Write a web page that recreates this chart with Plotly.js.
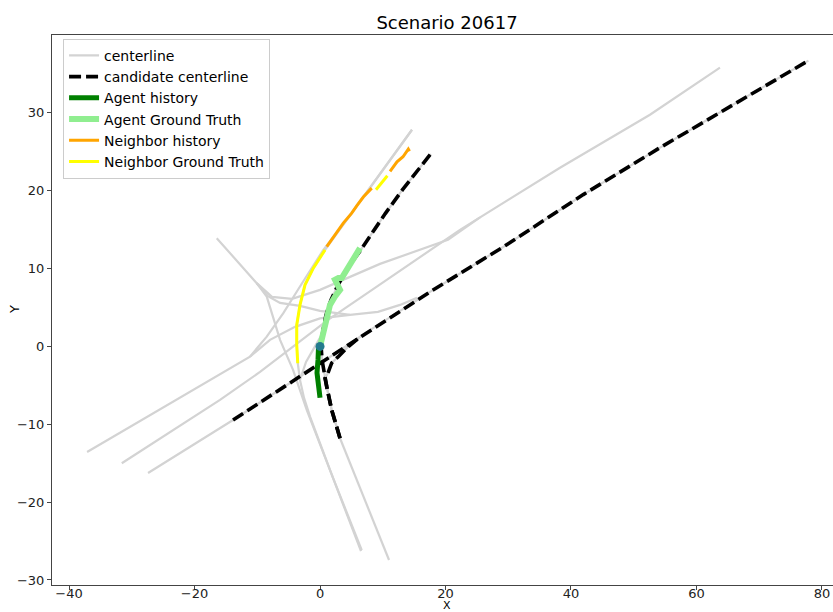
<!DOCTYPE html>
<html>
<head>
<meta charset="utf-8">
<script src="https://cdn.plot.ly/plotly-3.0.1.min.js"></script>
<style>
html,body{margin:0;padding:0;overflow:hidden;background:#fff;}
#chart{width:842px;height:612px;}
</style>
</head>
<body>
<div id="chart"></div>
<script>
// ---- centerlines (gray) ----
const clSw1X = [-37.13, -11.16, -8.49, -5.85, -3.19, 0.53, 4.25, 9.56, 14.66];
const clSw1Y = [-13.56, -1.31, 1.26, 4.27, 7.69, 12.40, 16.26, 22.17, 27.83];
const clSw2X = [-31.6, -15.94, -9.56, -3.98, 1.27, 8.76, 22.31, 38.25, 52.59, 63.75];
const clSw2Y = [-15.01, -6.88, -3.28, 0.19, 3.41, 7.52, 14.97, 22.94, 29.76, 35.8];
const clSw3X = [-27.41, -13.86, 0, 8.76, 17.53, 29.45, 41.96, 53.93, 66.98, 77.85];
const clSw3Y = [-16.26, -9.45, -2.2, 2.5, 7.0, 12.9, 19.5, 25.4, 31.6, 36.71];
const clNwX = [-16.46, -10.09, -8.49, -7.49, -6.37, -4.30, -2.12, 2.07, 6.53];
const clNwY = [13.9, 8.12, 6.40, 3.83, 0.84, -3.02, -8.16, -16.9, -26.3];
const clNsX = [14.66, 9.56, 4.25, 0.80, -1.07, -2.39, -3.19, -3.71, -3.71, -3.55, -3.19, -2.55, -1.59, 2.07, 6.65];
const clNsY = [27.83, 22.17, 16.26, 12.40, 10.05, 7.90, 5.33, 2.76, 0.19, -2.16, -4.31, -6.62, -9.02, -16.9, -26.16];
const clNweX = [-10.09, -8.3, -6.37, -3.19, 0, 3.19, 4.78, 9.24, 12.75, 15.46];
const clNweY = [8.12, 6.45, 5.59, 5.21, 4.56, 4.18, 4.05, 4.43, 5.33, 6.23];
const clSw1eX = [-11.16, -7.97, -3.98, 0, 4.78];
const clSw1eY = [-1.31, 0.84, 2.51, 3.6, 4.05];
const clNwneX = [-10.09, -7.65, -4.46, 0, 9.56, 20.4, 25.5];
const clNwneY = [8.12, 6.36, 6.11, 7.26, 10.6, 13.69, 16.57];
const clSaX = [-3.19, -2.23, -1.12, 0.5, 1.27];
const clSaY = [-4.31, -2.0, -0.45, 1.8, 3.41];
const clSouthX = [11.0, 3.19];
const clSouthY = [-27.44, -11.8];

// ---- candidate centerlines (black dashed) ----
const candEastX = [-13.86, 0, 8.76, 17.53, 29.45, 41.96, 53.93, 66.98, 77.85];
const candEastY = [-9.45, -2.2, 2.5, 7.0, 12.9, 19.5, 25.4, 31.6, 36.71];
const candNorthX = [3.19, 1.86, 1.07, 0.8, 0.32, 0.16, 0.48, 0.96, 1.75, 2.87, 4.78, 6.33, 10.4, 13.13, 17.64];
const candNorthY = [-11.8, -8.16, -5.17, -4.09, -1.74, 0.19, 2.12, 4.05, 5.98, 7.9, 10.48, 12.2, 17.06, 20.1, 24.73];
const candTurnX = [3.19, 1.86, 1.07, 0.8, 1.27, 1.86, 2.87, 4.3, 6.5];
const candTurnY = [-11.8, -8.16, -5.17, -4.09, -3.41, -2.12, -1.35, -0.19, 1.29];

// ---- agent ----
const agentHistX = [0, -0.16, -0.48, -0.32, -0.24];
const agentHistY = [-6.6, -4.95, -3.4, -1.74, -0.06];
const agentGtX = [0, 0.53, 1.07, 1.59, 2.39, 3.19, 2.39, 2.92, 3.46, 4.25, 5.31, 6.37];
const agentGtY = [-0.03, 1.90, 3.62, 5.33, 6.40, 7.26, 8.55, 8.77, 8.77, 9.83, 11.12, 12.62];
const agentPosX = [0];
const agentPosY = [0];

// ---- neighbors ----
const nbAHistX = [8.24, 6.90, 5.85, 5.05, 3.71, 2.39, 1.07];
const nbAHistY = [20.33, 19.18, 18.06, 17.12, 15.84, 14.33, 12.83];
const nbAGtX = [0.80, -1.07, -2.39, -3.19, -3.71, -3.71, -3.55];
const nbAGtY = [12.40, 10.05, 7.90, 5.33, 2.76, 0.19, -2.16];
const nbBHistX = [14.26, 14.07, 13.23, 12.27, 11.16];
const nbBHistY = [25.06, 25.35, 24.36, 23.71, 22.47];
const nbBGtX = [10.73, 9.88, 8.92];
const nbBGtY = [21.92, 21.14, 20.12];

// ---- tick labels / titles ----
const xTicks = [-40, -20, 0, 20, 40, 60, 80];
const yTicks = [-30, -20, -10, 0, 10, 20, 30];
const chartTitle = 'Scenario 20617';
const xTitle = 'X';
const yTitle = 'Y';

const GRAY = '#d3d3d3';
const traces = [];
function add(x, y, name, color, width, dash, show, group) {
  traces.push({
    x: x, y: y, type: 'scatter', mode: 'lines', name: name,
    line: {color: color, width: width, dash: dash || 'solid'},
    showlegend: !!show, legendgroup: group, hoverinfo: 'skip'
  });
}
const grayLines = [
  [clSw1X, clSw1Y], [clSw2X, clSw2Y], [clSw3X, clSw3Y], [clNwX, clNwY],
  [clNsX, clNsY], [clNweX, clNweY], [clSw1eX, clSw1eY], [clNwneX, clNwneY],
  [clSaX, clSaY], [clSouthX, clSouthY],
  [candNorthX, candNorthY], [candTurnX, candTurnY]
];
grayLines.forEach((l, i) => add(l[0], l[1], 'centerline', GRAY, 2.2, 'solid', i === 0, 'g1'));
add(candEastX, candEastY, 'candidate centerline', '#000000', 3.6, '12px,5px', true, 'g2');
add(candNorthX, candNorthY, 'candidate centerline', '#000000', 3.6, '12px,5px', false, 'g2');
add(candTurnX, candTurnY, 'candidate centerline', '#000000', 3.6, '12px,5px', false, 'g2');
add(agentHistX, agentHistY, 'Agent history', '#008000', 5, 'solid', true, 'g3');
add(agentGtX, agentGtY, 'Agent Ground Truth', '#90ee90', 6, 'solid', true, 'g4');
add(nbAHistX, nbAHistY, 'Neighbor history', '#ffa500', 3, 'solid', true, 'g5');
add(nbAGtX, nbAGtY, 'Neighbor Ground Truth', '#ffff00', 3, 'solid', true, 'g6');
add(nbBHistX, nbBHistY, 'Neighbor history', '#ffa500', 3, 'solid', false, 'g5');
add(nbBGtX, nbBGtY, 'Neighbor Ground Truth', '#ffff00', 3, 'solid', false, 'g6');
traces.push({x: agentPosX, y: agentPosY, type: 'scatter', mode: 'markers',
  marker: {color: '#237b8e', size: 9}, showlegend: false, hoverinfo: 'skip'});

const FONT = 'DejaVu Sans, sans-serif';
const axisCommon = {
  showgrid: false, zeroline: false, showline: true, mirror: true,
  linecolor: '#444', linewidth: 1, ticks: 'outside', ticklen: 4,
  tickcolor: '#444', tickfont: {family: FONT, size: 13, color: '#222'},
  automargin: false
};
const layout = {
  width: 842, height: 612,
  margin: {l: 52, r: 0, t: 35, b: 27, pad: 0},
  paper_bgcolor: '#ffffff', plot_bgcolor: '#ffffff',
  title: {text: chartTitle, font: {family: FONT, size: 18, color: '#000'},
          x: 0.5, xref: 'paper', y: 0.963, yref: 'container', yanchor: 'middle'},
  xaxis: Object.assign({}, axisCommon, {
    range: [-42.72, 83.2], tickvals: xTicks, ticklabelstandoff: -8
  }),
  yaxis: Object.assign({}, axisCommon, {
    range: [-30.65, 40.0], tickvals: yTicks
  }),
  annotations: [
    {text: xTitle, xref: 'paper', yref: 'paper', x: 0.5, y: -0.0373,
     xanchor: 'center', yanchor: 'middle', showarrow: false,
     font: {family: FONT, size: 11, color: '#000'}},
    {text: yTitle, xref: 'paper', yref: 'paper', x: -0.048, y: 0.5,
     xanchor: 'center', yanchor: 'middle', showarrow: false, textangle: -90,
     font: {family: FONT, size: 13, color: '#000'}}
  ],
  legend: {
    x: 0.014, y: 0.993, xanchor: 'left', yanchor: 'top',
    bgcolor: 'rgba(255,255,255,0.8)', bordercolor: '#cccccc', borderwidth: 1,
    font: {family: FONT, size: 14, color: '#000'},
    traceorder: 'grouped', tracegroupgap: 0
  },
  showlegend: true
};
Plotly.newPlot('chart', traces, layout, {staticPlot: true, displayModeBar: false});
</script>
</body>
</html>
